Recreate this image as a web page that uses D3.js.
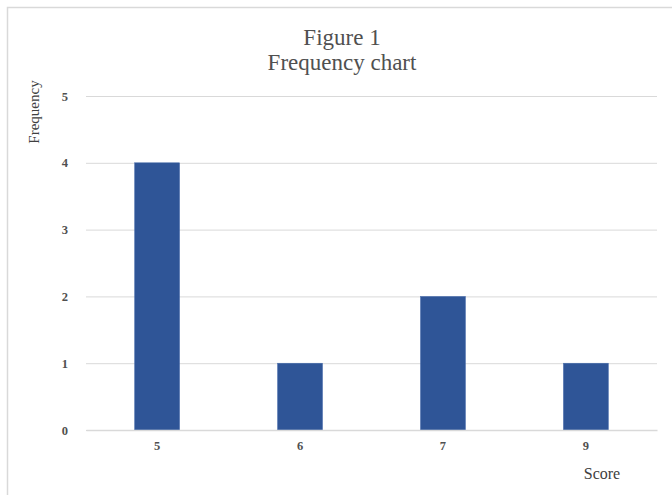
<!DOCTYPE html>
<html><head><meta charset="utf-8">
<script src="https://cdn.jsdelivr.net/npm/d3@7"></script>
<style>body{margin:0;background:#fff}svg{display:block}</style>
</head><body>
<script>
const categories = ["5","6","7","9"];
const frequencies = [4,1,2,1];
const yTicks = [0,1,2,3,4,5];
const titleLines = ["Figure 1","Frequency chart"];
const xTitle = "Score";
const yTitle = "Frequency";

const W=672,H=495;
const m={left:86,right:15,top:96,bottom:65};
const svg=d3.select("body").append("svg").attr("width",W).attr("height",H);
const font="'Liberation Serif','Times New Roman',serif";

// border
svg.append("path").attr("d",`M7.5,${H} V7.5 H${W}`).attr("fill","none").attr("stroke","#d9d9d9").attr("stroke-width",1.5);

const x=d3.scaleBand().domain(categories).range([m.left,W-m.right]).paddingInner(0.685).paddingOuter(0.34);
const y=d3.scaleLinear().domain([0,5]).range([H-m.bottom,m.top]);

const g=svg.append("g");
const yAxis=g.append("g").attr("transform",`translate(${m.left},0)`)
  .call(d3.axisLeft(y).tickValues(yTicks).tickSize(-(W-m.left-m.right)).tickPadding(18).tickFormat(d3.format("d")));
yAxis.select(".domain").remove();
yAxis.selectAll(".tick line").attr("stroke","#d9d9d9").attr("stroke-width",1);
yAxis.selectAll(".tick text").attr("fill","#505050").style("font-family",font).style("font-size","12.5px").style("font-weight","bold");

g.selectAll("rect.bar").data(frequencies).enter().append("rect")
  .attr("x",(d,i)=>x(categories[i])).attr("width",x.bandwidth())
  .attr("y",d=>y(d)).attr("height",d=>y(0)-y(d))
  .attr("fill","#2F5597").attr("stroke","#4a6fae").attr("stroke-width",0.5);

const xAxis=g.append("g").attr("transform",`translate(0,${y(0)})`)
  .call(d3.axisBottom(x).tickSize(0).tickPadding(11));
xAxis.select(".domain").attr("stroke","#d9d9d9").attr("stroke-width",1.5);
xAxis.selectAll(".tick text").attr("fill","#505050").style("font-family",font).style("font-size","12.5px").style("font-weight","bold");

svg.selectAll("text.title").data(titleLines).enter().append("text")
  .attr("x",342).attr("y",(d,i)=>45+i*25).attr("text-anchor","middle")
  .attr("fill","#505050").style("font-family",font).style("font-size","23px").text(d=>d);

svg.append("text").attr("x",602).attr("y",479).attr("text-anchor","middle")
  .attr("fill","#404040").style("font-family",font).style("font-size","16px").text(xTitle);

svg.append("text").attr("transform","translate(39,112) rotate(-90)").attr("text-anchor","middle")
  .attr("fill","#404040").style("font-family",font).style("font-size","15px").text(yTitle);
</script>
</body></html>
